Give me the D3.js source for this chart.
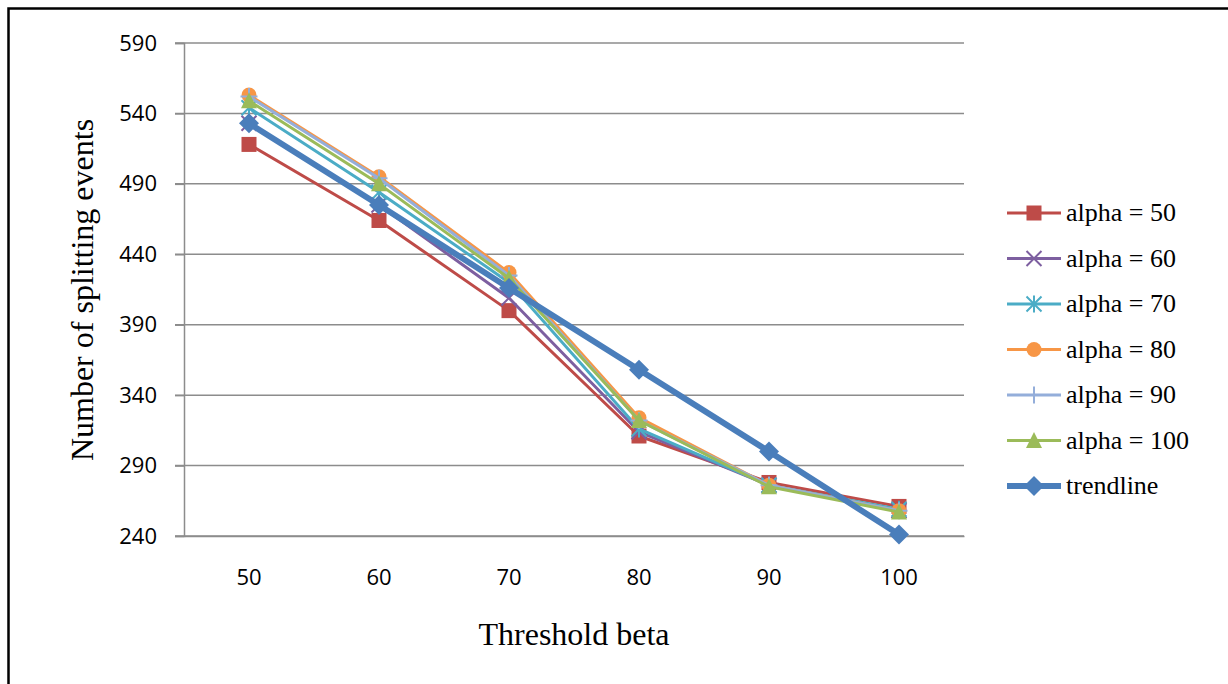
<!DOCTYPE html>
<html><head><meta charset="utf-8">
<script src="https://cdn.jsdelivr.net/npm/d3@7"></script>
<style>body{margin:0;background:#fff;}svg{display:block;}</style>
</head><body>
<script>
const categories = [50, 60, 70, 80, 90, 100];
const yTicks = [240, 290, 340, 390, 440, 490, 540, 590];
const seriesNames = ["alpha = 50","alpha = 60","alpha = 70","alpha = 80","alpha = 90","alpha = 100","trendline"];
const alpha50  = [518, 464, 400, 311, 278, 261];
const alpha60  = [533, 475, 409, 314, 276, 258];
const alpha70  = [544, 484, 420, 316, 276, 259];
const alpha80  = [553, 495, 427, 324, 276, 258];
const alpha90  = [552, 494, 425, 322, 276, 258];
const alpha100 = [549, 490, 423, 322, 275, 257];
const trendline = [533, 475, 416, 358, 300, 241];
const seriesValues = [alpha50, alpha60, alpha70, alpha80, alpha90, alpha100, trendline];
const colors = ["#BE4B48","#7D5FA0","#4BACC6","#F79646","#94AEDA","#9BBB59","#4A7EBB"];
const markers = ["square","x","star","circle","plus","triangle","diamond"];
const widths = [3,3,3,3,3,3,6];

const W = 1228, H = 684;
const svg = d3.select("body").append("svg").attr("width", W).attr("height", H);
const tickFont = "'Open Sans', 'Liberation Sans', sans-serif";
const serif = "'Liberation Serif', 'Times New Roman', serif";

// frame
svg.append("path").attr("d", `M8.5,${H} L8.5,8.5 L${W},8.5`).attr("fill","none").attr("stroke","#000").attr("stroke-width",2.5);

const x = d3.scaleBand().domain(categories).range([184, 964]);
const y = d3.scaleLinear().domain([240, 590]).range([536, 43]);

// gridlines
svg.append("g").selectAll("line").data(yTicks).join("line")
  .attr("x1", 175).attr("x2", 964)
  .attr("y1", d => y(d)).attr("y2", d => y(d))
  .attr("stroke", "#8c8c8c").attr("stroke-width", 1.5);

// y axis
const yAxis = svg.append("g").attr("transform","translate(184,0)")
  .call(d3.axisLeft(y).tickValues(yTicks).tickSize(9).tickPadding(18));
yAxis.select(".domain").attr("stroke","#8c8c8c").attr("stroke-width",1.5);
yAxis.selectAll(".tick line").attr("stroke","#8c8c8c").attr("stroke-width",1.5);
yAxis.selectAll("text").attr("font-family", tickFont).attr("font-size",22).attr("fill","#000");

// x axis
const xAxis = svg.append("g").attr("transform","translate(0,536)")
  .call(d3.axisBottom(x).tickSize(0).tickPadding(33));
xAxis.select(".domain").attr("stroke","#8c8c8c").attr("stroke-width",1.5);
xAxis.selectAll("text").attr("font-family", tickFont).attr("font-size",22).attr("fill","#000");

// axis titles
svg.append("text").attr("x", 574).attr("y", 645).attr("text-anchor","middle")
  .attr("font-family", serif).attr("font-size",32).text("Threshold beta");
svg.append("text").attr("transform","translate(93,290) rotate(-90)").attr("text-anchor","middle")
  .attr("font-family", serif).attr("font-size",32).text("Number of splitting events");

function drawMarker(g, type, color, cx, cy, s) {
  if (type === "square") {
    g.append("rect").attr("x", cx - s).attr("y", cy - s).attr("width", 2*s).attr("height", 2*s).attr("fill", color);
  } else if (type === "circle") {
    g.append("circle").attr("cx", cx).attr("cy", cy).attr("r", s).attr("fill", color);
  } else if (type === "triangle") {
    g.append("path").attr("d", `M${cx},${cy - s - 1} L${cx + s + 0.5},${cy + s} L${cx - s - 0.5},${cy + s}Z`).attr("fill", color);
  } else if (type === "diamond") {
    const r = s + 2.5;
    g.append("path").attr("d", `M${cx},${cy - r} L${cx + r},${cy} L${cx},${cy + r} L${cx - r},${cy}Z`).attr("fill", color);
  } else if (type === "x") {
    g.append("path").attr("d", `M${cx - s},${cy - s} L${cx + s},${cy + s} M${cx - s},${cy + s} L${cx + s},${cy - s}`).attr("stroke", color).attr("stroke-width", 2);
  } else if (type === "star") {
    g.append("path").attr("d", `M${cx - s},${cy - s} L${cx + s},${cy + s} M${cx - s},${cy + s} L${cx + s},${cy - s} M${cx},${cy - s - 1} L${cx},${cy + s + 1}`).attr("stroke", color).attr("stroke-width", 2);
  } else if (type === "plus") {
    g.append("path").attr("d", `M${cx},${cy - s - 1} L${cx},${cy + s + 1} M${cx - s - 1},${cy} L${cx + s + 1},${cy}`).attr("stroke", color).attr("stroke-width", 2);
  }
}

const cx = d => x(d) + x.bandwidth() / 2;
const line = d3.line().x((d, i) => cx(categories[i])).y(d => y(d));

seriesValues.forEach((vals, si) => {
  const g = svg.append("g");
  g.append("path").datum(vals).attr("d", line).attr("fill","none")
    .attr("stroke", colors[si]).attr("stroke-width", widths[si]).attr("stroke-linejoin","round");
  vals.forEach((v, i) => drawMarker(g, markers[si], colors[si], cx(categories[i]), y(v), 7.5));
});

// legend
const legend = svg.append("g");
seriesNames.forEach((name, i) => {
  const ly = 213 + i * 45.5;
  const g = legend.append("g");
  g.append("line").attr("x1", 1007).attr("x2", 1061).attr("y1", ly).attr("y2", ly)
    .attr("stroke", colors[i]).attr("stroke-width", widths[i]);
  drawMarker(g, markers[i], colors[i], 1034, ly, 7.5);
  g.append("text").attr("x", 1066).attr("y", ly + 8)
    .attr("font-family", serif).attr("font-size",26).text(name);
});
</script>
</body></html>
